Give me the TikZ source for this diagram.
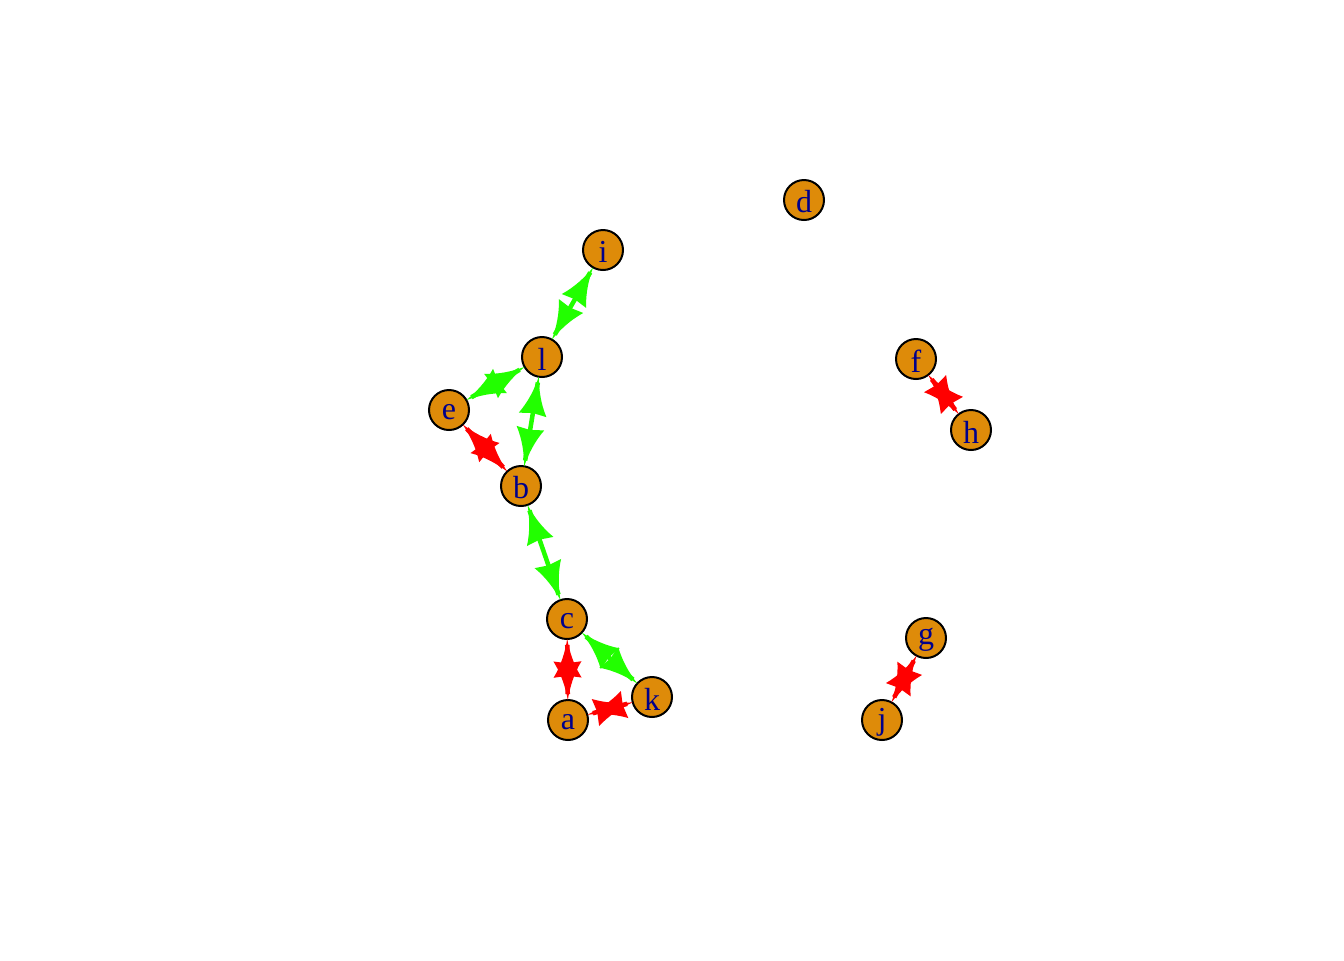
\documentclass[tikz,border=0pt]{standalone}
\usepackage{fontspec}
\setmainfont{Liberation Serif}
\usetikzlibrary{arrows.meta}

\definecolor{vertexorange}{RGB}{222,139,9}
\definecolor{labelblue}{RGB}{0,0,139}
\definecolor{edgegreen}{RGB}{34,255,0}
\definecolor{edgered}{RGB}{255,0,0}

% arrow head with hollow (concave) flanks
\pgfdeclarearrow{
  name = Flare,
  parameters = {\the\pgfarrowlength,\the\pgfarrowwidth},
  setup code = {
    \pgfarrowssettipend{0pt}
    \pgfarrowssetlineend{-0.15\pgfarrowlength}
    \pgfarrowssetbackend{-\pgfarrowlength}
    \pgfarrowsupperhullpoint{0pt}{0pt}
    \pgfarrowsupperhullpoint{-\pgfarrowlength}{.5\pgfarrowwidth}
    \pgfarrowssavethe\pgfarrowlength
    \pgfarrowssavethe\pgfarrowwidth
  },
  drawing code = {
    \pgfpathmoveto{\pgfpointorigin}
    \pgfpathcurveto{\pgfpoint{-.33\pgfarrowlength}{.08\pgfarrowwidth}}{\pgfpoint{-.67\pgfarrowlength}{.22\pgfarrowwidth}}{\pgfpoint{-\pgfarrowlength}{.5\pgfarrowwidth}}
    \pgfpathlineto{\pgfpoint{-.95\pgfarrowlength}{0pt}}
    \pgfpathlineto{\pgfpoint{-\pgfarrowlength}{-.5\pgfarrowwidth}}
    \pgfpathcurveto{\pgfpoint{-.67\pgfarrowlength}{-.22\pgfarrowwidth}}{\pgfpoint{-.33\pgfarrowlength}{-.08\pgfarrowwidth}}{\pgfpointorigin}
    \pgfpathclose
    \pgfusepathqfill
  },
  defaults = {length = 14.5pt, width = 10.5pt}
}

\begin{document}
\begin{tikzpicture}[x=0.375pt, y=-0.375pt]
    % labels sit a little below the centre
    \tikzstyle{vertex} = [circle, minimum size=15pt, inner sep=0pt, outer sep=0pt, draw=black, line width=0.75pt, fill=vertexorange, text=labelblue, font=\fontsize{12}{14}\selectfont, execute at begin node={\vbox\bgroup\kern1.5pt\hbox\bgroup}, execute at end node={\egroup\egroup}]
    \tikzstyle{greenlink} = [line width=1.7pt, draw=edgegreen, Flare-Flare]
    \tikzstyle{redlink} = [line width=1.7pt, draw=edgered, Flare-Flare]

    \useasboundingbox (0,0) rectangle (1344,960);

    \node (d) [vertex] at (804,200) {d};
    \node (i) [vertex] at (603,250) {i};
    \node (l) [vertex] at (542,357) {l};
    \node (e) [vertex] at (449,410) {e};
    \node (b) [vertex] at (521,486) {b};
    \node (c) [vertex] at (567,619) {c};
    \node (k) [vertex] at (652,697) {k};
    \node (a) [vertex] at (568,720) {a};
    \node (f) [vertex] at (916,359) {f};
    \node (h) [vertex] at (971,430) {h};
    \node (g) [vertex] at (926,638) {g};
    \node (j) [vertex] at (882,720) {j};

    \draw [greenlink] (i) -- (l);
    \draw [greenlink] (l) -- (e);
    \draw [greenlink] (l) -- (b);
    \draw [greenlink] (b) -- (c);
    \draw [greenlink] (c) -- (k);
    \draw [redlink] (e) -- (b);
    \draw [redlink] (c) -- (a);
    \draw [redlink] (a) -- (k);
    \draw [redlink] (f) -- (h);
    \draw [redlink] (g) -- (j);
\end{tikzpicture}
\end{document}
